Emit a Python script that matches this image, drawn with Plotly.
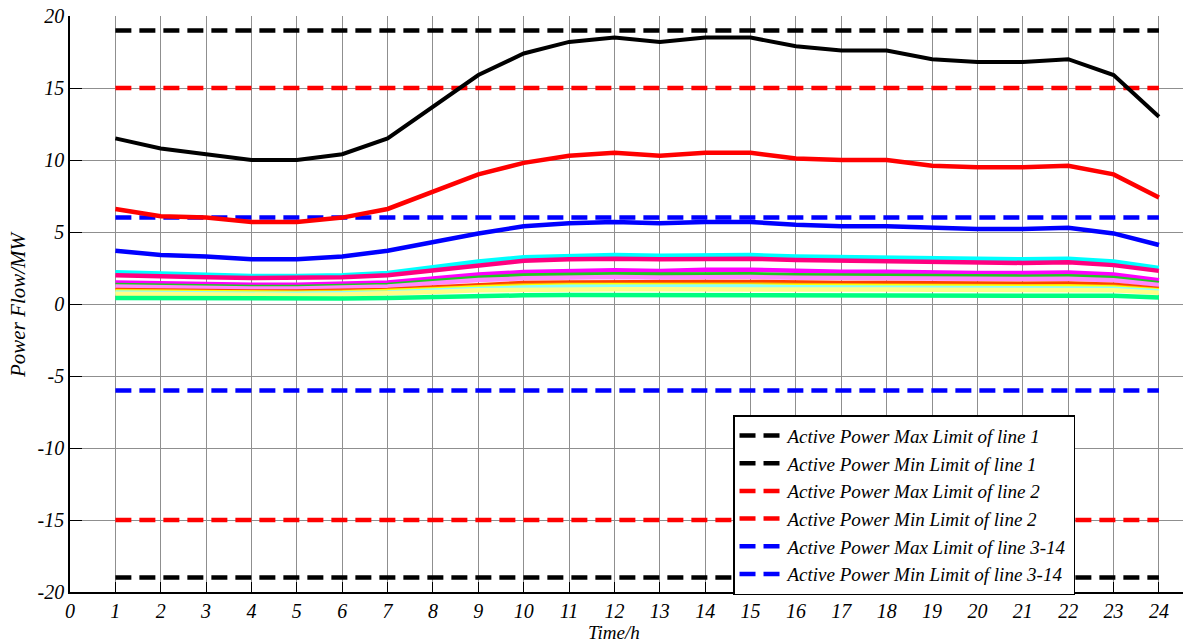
import plotly.graph_objects as go

hours = list(range(1, 25))

# Active power flow of each branch (MW), hours 1..24
line1 = [11.5, 10.8, 10.4, 10.0, 10.0, 10.4, 11.5, 13.7, 15.9, 17.4, 18.2, 18.5,
         18.2, 18.5, 18.5, 17.9, 17.6, 17.6, 17.0, 16.8, 16.8, 17.0, 15.9, 13.0]
line2 = [6.6, 6.1, 6.0, 5.7, 5.7, 6.0, 6.6, 7.8, 9.0, 9.8, 10.3, 10.5,
         10.3, 10.5, 10.5, 10.1, 10.0, 10.0, 9.6, 9.5, 9.5, 9.6, 9.0, 7.4]
line3 = [3.7, 3.4, 3.3, 3.1, 3.1, 3.3, 3.7, 4.3, 4.9, 5.4, 5.6, 5.7,
         5.6, 5.7, 5.7, 5.5, 5.4, 5.4, 5.3, 5.2, 5.2, 5.3, 4.9, 4.1]
line4 = [2.2, 2.1, 2.0, 1.95, 1.95, 2.0, 2.15, 2.55, 2.95, 3.25, 3.35, 3.4,
         3.35, 3.4, 3.4, 3.3, 3.25, 3.25, 3.15, 3.1, 3.1, 3.15, 2.95, 2.5]
line5 = [2.0, 1.9, 1.85, 1.8, 1.8, 1.85, 2.0, 2.35, 2.7, 3.0, 3.1, 3.15,
         3.1, 3.15, 3.15, 3.05, 3.0, 3.0, 2.9, 2.85, 2.85, 2.9, 2.7, 2.3]
line6 = [1.5, 1.42, 1.38, 1.33, 1.33, 1.38, 1.5, 1.78, 2.05, 2.22, 2.3, 2.35,
         2.3, 2.38, 2.38, 2.28, 2.24, 2.24, 2.18, 2.15, 2.15, 2.18, 2.05, 1.65]
line7 = [1.32, 1.25, 1.22, 1.18, 1.18, 1.22, 1.32, 1.58, 1.82, 1.98, 2.04, 2.07,
         2.04, 2.07, 2.07, 2.0, 1.97, 1.97, 1.92, 1.9, 1.9, 1.92, 1.8, 1.45]
line8 = [1.22, 1.15, 1.12, 1.08, 1.08, 1.12, 1.22, 1.45, 1.66, 1.78, 1.84, 1.87,
         1.84, 1.87, 1.87, 1.82, 1.79, 1.79, 1.75, 1.73, 1.73, 1.75, 1.65, 1.32]
line9 = [0.98, 0.93, 0.9, 0.87, 0.87, 0.9, 0.98, 1.15, 1.33, 1.45, 1.5, 1.53,
         1.5, 1.53, 1.53, 1.48, 1.46, 1.46, 1.42, 1.4, 1.4, 1.42, 1.33, 1.05]
line10 = [0.9, 0.85, 0.82, 0.8, 0.8, 0.82, 0.9, 1.05, 1.2, 1.3, 1.34, 1.36,
          1.34, 1.36, 1.36, 1.32, 1.3, 1.3, 1.27, 1.25, 1.25, 1.27, 1.2, 0.98]
line11 = [0.86, 0.82, 0.79, 0.77, 0.77, 0.79, 0.86, 1.0, 1.15, 1.25, 1.29, 1.31,
          1.29, 1.31, 1.31, 1.27, 1.25, 1.25, 1.22, 1.2, 1.2, 1.22, 1.15, 0.94]
line12 = [0.8, 0.76, 0.74, 0.72, 0.72, 0.74, 0.8, 0.93, 1.06, 1.15, 1.19, 1.21,
          1.19, 1.21, 1.21, 1.17, 1.15, 1.15, 1.12, 1.1, 1.1, 1.12, 1.06, 0.88]
line13 = [0.72, 0.68, 0.66, 0.63, 0.63, 0.66, 0.72, 0.84, 0.95, 1.0, 1.02, 1.03,
          1.02, 1.03, 1.03, 1.01, 1.0, 1.0, 0.99, 0.98, 0.98, 0.99, 0.95, 0.78]
line14 = [0.42, 0.4, 0.38, 0.37, 0.37, 0.38, 0.42, 0.5, 0.57, 0.6, 0.62, 0.62,
          0.62, 0.62, 0.62, 0.61, 0.6, 0.6, 0.6, 0.59, 0.59, 0.6, 0.57, 0.46]

flows = [line1, line2, line3, line4, line5, line6, line7, line8,
         line9, line10, line11, line12, line13, line14]
flow_colors = ["#000000", "#ff0000", "#0000ff", "#00ffff", "#ff0080", "#ff00ff",
               "#20c820", "#ff88ff", "#ff4000", "#ff9900", "#ffff00", "#88ffff",
               "#ffff88", "#00ff80"]

# Branch active power limits (MW)
limit_names = ["Active Power Max Limit of line 1", "Active Power Min Limit of line 1",
               "Active Power Max Limit of line 2", "Active Power Min Limit of line 2",
               "Active Power Max Limit of line 3-14", "Active Power Min Limit of line 3-14"]
limit_values = [19, -19, 15, -15, 6, -6]
limit_colors = ["#000000", "#000000", "#ff0000", "#ff0000", "#0000ff", "#0000ff"]

x_ticks = list(range(0, 25))
y_ticks = list(range(-20, 25, 5))

FONT = "Liberation Serif"

fig = go.Figure()

for name, val, col in zip(limit_names, limit_values, limit_colors):
    fig.add_trace(go.Scatter(
        x=hours, y=[val] * len(hours), mode="lines", name=name,
        line=dict(color=col, width=4.5, dash="16px,8px"),
    ))

for vals, col in zip(flows, flow_colors):
    fig.add_trace(go.Scatter(
        x=hours, y=vals, mode="lines", showlegend=False,
        line=dict(color=col, width=4.5 if col != "#000000" else 4),
    ))

grid_col = "#8f8f8f"
tick_font = dict(family=FONT, size=20, color="black", style="italic")
fig.update_xaxes(
    range=[0, 24.53], tickvals=x_ticks, ticktext=[str(v) for v in x_ticks],
    showgrid=True, gridcolor=grid_col, gridwidth=1,
    showline=True, linecolor="black", linewidth=1.5,
    ticks="inside", ticklen=10, tickcolor="black", tickwidth=1,
    zeroline=False, tickfont=tick_font,
)
fig.update_yaxes(
    range=[-20, 20], tickvals=y_ticks, ticktext=[str(v) for v in y_ticks],
    showgrid=True, gridcolor=grid_col, gridwidth=1,
    showline=True, linecolor="black", linewidth=1.5,
    ticks="inside", ticklen=12, tickcolor="black", tickwidth=1,
    zeroline=False, tickfont=tick_font,
)

fig.update_layout(
    width=1183, height=643,
    margin=dict(l=70, r=0, t=16, b=51),
    paper_bgcolor="white", plot_bgcolor="white",
    showlegend=True,
    legend=dict(
        x=0.5957, y=0.307, xanchor="left", yanchor="top",
        bgcolor="white", bordercolor="black", borderwidth=1.5,
        font=dict(family=FONT, size=19, color="black", style="italic"),
        itemwidth=43, entrywidth=357,
    ),
)

# axis titles placed as annotations in paper coordinates
fig.add_annotation(text="Time/h", xref="paper", yref="paper",
                   x=(614 - 70) / 1113, y=-(632 - 592) / 576,
                   showarrow=False, xanchor="center", yanchor="middle",
                   font=dict(family=FONT, size=19, color="black", style="italic"))
fig.add_annotation(text="Power Flow/MW", xref="paper", yref="paper",
                   x=-(70 - 18) / 1113, y=0.5, textangle=-90,
                   showarrow=False, xanchor="center", yanchor="middle",
                   font=dict(family=FONT, size=21, color="black", style="italic"))

fig.write_html("out.html")
